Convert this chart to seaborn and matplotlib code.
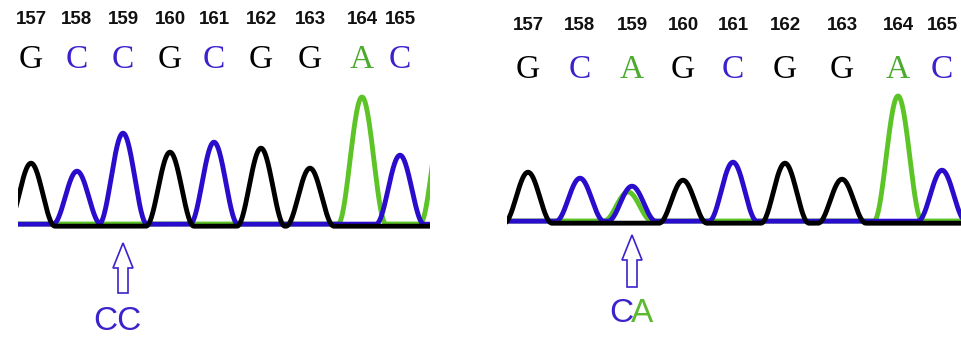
import numpy as np
import pandas as pd
import matplotlib
matplotlib.use('Agg')
import matplotlib.pyplot as plt
import seaborn as sns
from matplotlib.patches import FancyArrow

# base numbers and base calls (same for both reads except 159)
positions = [157, 158, 159, 160, 161, 162, 163, 164, 165]
calls_wt = ['G', 'C', 'C', 'G', 'C', 'G', 'G', 'A', 'C']
calls_mut = ['G', 'C', 'A', 'G', 'C', 'G', 'G', 'A', 'C']

# peak centres (scan units), peak heights and the trace carrying each peak
wt_scan = [13, 59, 105, 152, 196, 243, 292, 344, 382]
wt_height = [63, 53, 91, 74, 82, 78, 58, 127, 69]
wt_trace = ['G', 'C', 'C', 'G', 'C', 'G', 'G', 'A', 'C']
wt_extra = [('A', 426, 113)]  # green peak running off the right edge

mut_scan = [21, 73, 125, 176, 226, 278, 335, 391, 435]
mut_height = [51, 43, 35, 43, 59, 60, 44, 125, 51]
mut_trace = ['G', 'C', 'C', 'G', 'C', 'G', 'G', 'A', 'C']
mut_extra = [('A', 121, 29)]  # A peak under the C peak at 159

COLORS = {'A': '#5cc426', 'C': '#2a0ccc', 'G': '#000000'}
LETTER_COLORS = {'A': '#4caa2e', 'C': '#3a22cc', 'G': '#000000'}
OFFSET = {'A': 1.0, 'C': 0.8, 'G': -1.2}
HALF_BASE = 24.0


def peak_shape(x, centre, h):
    # raised cosine: rounded top, near-straight flanks, touches the baseline
    d = np.abs(x - centre)
    return np.where(d < HALF_BASE, h * np.cos(np.pi * d / (2 * HALF_BASE)) ** 2, 0.0)


def build_traces(scan, height, trace, extra, xmax):
    x = np.arange(-20, xmax + 20, 0.5)
    rows = []
    for base in ['A', 'C', 'G']:
        y = np.zeros_like(x) + OFFSET[base]
        peaks = [(s, h) for s, h, c in zip(scan, height, trace) if c == base]
        peaks += [(s, h) for b, s, h in extra if b == base]
        for s, h in peaks:
            y += peak_shape(x, s, h)
        rows.append(pd.DataFrame({'scan': x, 'signal': y, 'base': base}))
    return pd.concat(rows, ignore_index=True)


sns.set_theme(style='white')
plt.rcParams['font.family'] = ['Liberation Sans', 'DejaVu Sans']

fig = plt.figure(figsize=(9.62, 3.41), dpi=100)
fig.patch.set_facecolor('white')


def draw_panel(rect, xmax, base_y, scan, height, trace, calls, extra, num_y,
               call_y, arrow_top, arrow_bot, label_y, mutant):
    # axes set up 1:1 with pixels, y = 0 on the trace baseline
    ax = fig.add_axes(rect)
    df = build_traces(scan, height, trace, extra, xmax)
    sns.lineplot(data=df, x='scan', y='signal', hue='base',
                 hue_order=['A', 'C', 'G'], palette=COLORS,
                 estimator=None, sort=True, lw=3.5, legend=False, ax=ax)
    ax.set_xlim(0, xmax)
    ax.set_ylim(base_y - 341, base_y)
    ax.axis('off')

    for s, num, c in zip(scan, positions, calls):
        ax.text(s, num_y, str(num), ha='center', va='center', fontsize=13.5,
                fontweight='bold', color='#111111', clip_on=False)
        ax.text(s, call_y, c, ha='center', va='center', fontsize=24,
                family='Liberation Serif', color=LETTER_COLORS[c], clip_on=False)

    xa = scan[2]
    ax.add_patch(FancyArrow(xa, arrow_bot, 0, arrow_top - arrow_bot, width=10,
                            head_width=20, head_length=25,
                            length_includes_head=True, fc='white',
                            ec='#3a22cc', lw=1.2, clip_on=False))
    if mutant:
        ax.text(xa + 1, label_y, 'C', ha='right', va='center', fontsize=24,
                color='#3a22cc', clip_on=False)
        ax.text(xa - 1, label_y, 'A', ha='left', va='center', fontsize=24,
                color='#5cb82e', clip_on=False)
    else:
        ax.text(xa - 6, label_y, 'CC', ha='center', va='center', fontsize=24,
                color='#3a22cc', clip_on=False)


draw_panel([18 / 962, 0, 412 / 962, 1], 412, 225, wt_scan, wt_height,
           wt_trace, calls_wt, wt_extra, 205, 165, -18, -68, -97, False)
draw_panel([507 / 962, 0, 455 / 962, 1], 455, 222, mut_scan, mut_height,
           mut_trace, calls_mut, mut_extra, 197, 152, -13, -65, -91, True)

fig.savefig('out.png', dpi=100, facecolor='white')
